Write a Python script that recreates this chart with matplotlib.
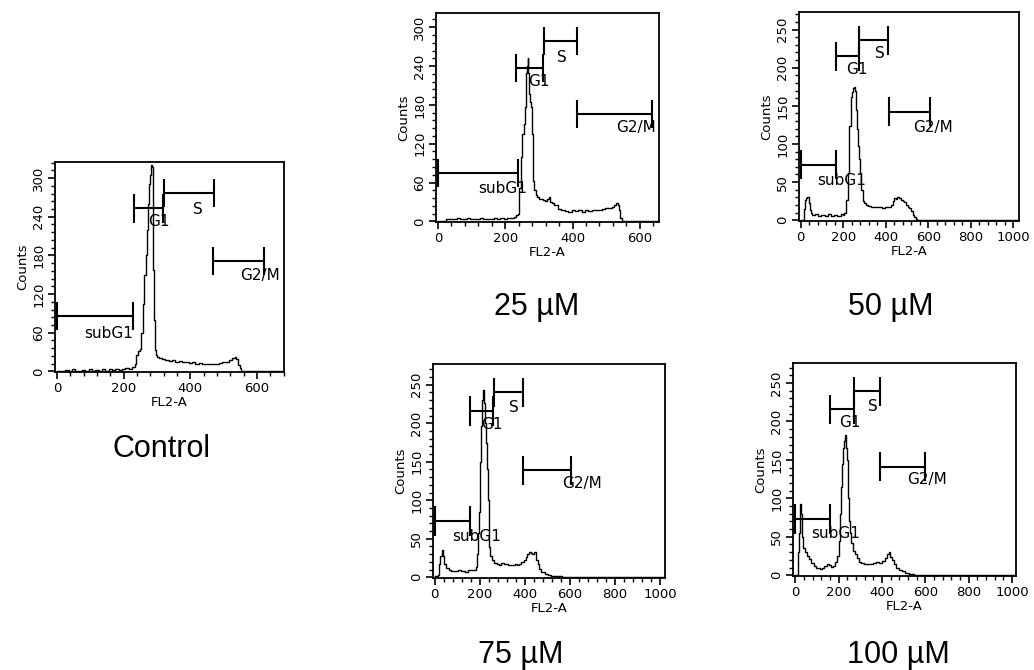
import matplotlib
matplotlib.use("Agg")
import matplotlib.pyplot as plt
from matplotlib.ticker import MultipleLocator, AutoMinorLocator

# ---------------- data ----------------
panel_names = ["Control", "25 \u00b5M", "50 \u00b5M", "75 \u00b5M", "100 \u00b5M"]

ctrl_x = [0, 10, 20, 30, 40, 50, 60, 70, 80, 90, 100, 110, 120, 130, 140, 150, 160, 170, 180, 190,
          200, 210, 220, 230, 236, 240, 245, 250, 255, 260, 264, 267, 270, 273, 277, 280, 283, 286,
          288, 290, 292, 295, 298, 302, 310, 320, 330, 340, 350, 360, 370, 380, 390, 400, 410, 420,
          430, 440, 450, 460, 470, 480, 490, 500, 510, 520, 530, 536, 540, 545, 550, 556, 570, 680]
ctrl_y = [0, 1, 0, 2, 0, 3, 1, 0, 2, 0, 3, 1, 2, 0, 3, 1, 4, 2, 3, 2,
          4, 5, 4, 6, 12, 25, 32, 35, 60, 105, 150, 180, 219, 260, 291, 305, 320, 318,
          290, 157, 80, 33, 25, 22, 20, 19, 18, 16, 17, 15, 16, 14, 15, 13, 14, 12,
          13, 12, 11, 12, 11, 12, 13, 14, 15, 17, 20, 22, 19, 10, 5, 0, 0, 0]

d25_x = [0, 20, 25, 30, 40, 50, 60, 70, 80, 90, 100, 110, 120, 130, 140, 150, 160, 170, 180, 190,
         200, 210, 220, 230, 235, 239, 244, 249, 253, 256, 259, 263, 266, 268, 270, 272, 275, 277,
         280, 284, 288, 292, 297, 302, 310, 315, 322, 327, 332, 335, 342, 350, 362, 372, 382, 392,
         402, 412, 422, 432, 442, 452, 462, 472, 482, 492, 502, 512, 520, 527, 532, 536, 540, 545,
         550, 660]
d25_y = [0, 0, 3, 3, 4, 3, 5, 4, 3, 5, 4, 4, 3, 5, 4, 3, 4, 5, 4, 5,
         4, 5, 5, 7, 10, 11, 52, 99, 135, 150, 176, 230, 240, 252, 230, 197, 185, 176,
         135, 63, 48, 40, 37, 35, 34, 33, 32, 35, 37, 30, 29, 25, 19, 17, 16, 15,
         17, 16, 17, 15, 17, 16, 18, 17, 18, 19, 20, 21, 22, 25, 28, 26, 17, 5,
         0, 0]

d50_x = [0, 15, 17, 22, 28, 32, 36, 40, 44, 50, 60, 75, 90, 105, 120, 135, 150, 165, 180, 195,
         200, 208, 216, 224, 232, 240, 244, 248, 252, 255, 259, 263, 267, 271, 275, 279, 287, 295,
         302, 310, 325, 340, 357, 372, 389, 405, 420, 428, 436, 443, 451, 458, 465, 474, 483, 490,
         498, 506, 514, 522, 530, 537, 545, 552, 1025]
d50_y = [0, 0, 15, 27, 29, 31, 30, 22, 14, 10, 7, 8, 6, 7, 5, 8, 6, 7, 6, 8,
         7, 10, 27, 62, 123, 162, 168, 173, 175, 172, 170, 145, 120, 97, 80, 62, 40, 25,
         22, 20, 19, 18, 18, 17, 16, 17, 17, 20, 25, 29, 28, 30, 29, 27, 25, 24,
         20, 18, 16, 12, 7, 4, 1, 0, 0]

d75_x = [0, 10, 15, 22, 28, 34, 38, 44, 55, 67, 80, 96, 110, 125, 140, 155, 170, 178, 185, 189,
         193, 197, 200, 204, 207, 211, 215, 218, 222, 226, 230, 234, 237, 241, 244, 250, 259, 270,
         280, 289, 300, 310, 319, 330, 340, 348, 360, 370, 378, 390, 400, 407, 415, 422, 430, 437,
         445, 452, 460, 467, 480, 496, 510, 526, 540, 556, 570, 1020]
d75_y = [2, 2, 3, 17, 28, 35, 28, 17, 12, 9, 8, 8, 9, 8, 7, 9, 9, 10, 13, 30,
         57, 85, 109, 150, 196, 230, 243, 235, 226, 200, 174, 140, 100, 65, 39, 28, 22, 18,
         17, 16, 19, 17, 17, 16, 16, 16, 17, 16, 17, 20, 22, 26, 30, 33, 32, 30,
         33, 22, 17, 11, 7, 4, 3, 2, 1, 1, 0, 0]

d100_x = [0, 14, 16, 18, 22, 26, 30, 34, 40, 50, 60, 70, 80, 90, 100, 110, 120, 130, 140, 150,
          160, 170, 180, 190, 200, 205, 210, 215, 220, 225, 228, 231, 234, 237, 240, 243, 246, 250,
          255, 260, 270, 280, 290, 300, 310, 320, 335, 350, 365, 380, 395, 410, 420, 428, 435, 442,
          450, 460, 470, 485, 500, 515, 530, 545, 555, 1020]
d100_y = [0, 0, 30, 55, 90, 92, 80, 50, 35, 30, 25, 21, 16, 12, 10, 9, 8, 9, 12, 14,
          13, 11, 12, 17, 25, 45, 80, 115, 145, 165, 175, 182, 178, 165, 150, 125, 100, 70,
          55, 42, 32, 27, 22, 17, 16, 15, 15, 14, 16, 17, 16, 18, 22, 27, 30, 24,
          20, 14, 10, 7, 5, 3, 2, 1, 0, 0]

gate_names = ["subG1", "G1", "S", "G2/M"]
# gate start, gate end, gate level (counts) for each panel
ctrl_gates = [(0, 228, 86), (230, 317, 253), (320, 470, 277), (467, 620, 171)]
d25_gates = [(0, 239, 75), (232, 313, 237), (315, 414, 279), (414, 637, 166)]
d50_gates = [(0, 166, 73), (166, 276, 215), (276, 408, 236), (417, 608, 142)]
d75_gates = [(0, 156, 73), (156, 259, 216), (262, 390, 240), (390, 604, 139)]
d100_gates = [(0, 162, 73), (162, 269, 216), (269, 392, 239), (392, 600, 141)]

# gate label anchor points (data coords)
ctrl_lab = [(155, 59), (307, 233), (422, 252), (610, 149)]
d25_lab = [(192, 51), (300, 216), (367, 253), (588, 145)]
d50_lab = [(193, 52), (266, 197), (373, 219), (620, 122)]
d75_lab = [(185, 53), (255, 198), (353, 220), (652, 122)]
d100_lab = [(185, 54), (254, 198), (358, 220), (608, 124)]

y_major = [60, 60, 50, 50, 50]
x_ticks_max = [600, 600, 1000, 1000, 1000]

# ---------------- layout ----------------
W, H = 1034, 670
fig = plt.figure(figsize=(W / 100, H / 100), dpi=100)

# pixel boxes: left, right, top, bottom ; limits
boxes = [(55, 284, 162, 372), (436, 659, 13, 222), (799, 1019, 12, 221),
         (433, 665, 364, 578), (793, 1016, 363, 576)]
xlims = [(-6, 681), (-6, 657), (-8, 1026), (-8, 1022), (-10, 1018)]
ylims = [(-1, 325), (-1, 322), (-1, 273), (-1, 277), (-1, 276)]
half_ticks = [22, 22, 19, 19, 19]
caption_pos = [(161, 449), (537, 307), (891, 307), (521, 655), (898, 655)]

series = [(ctrl_x, ctrl_y), (d25_x, d25_y), (d50_x, d50_y), (d75_x, d75_y), (d100_x, d100_y)]
gates = [ctrl_gates, d25_gates, d50_gates, d75_gates, d100_gates]
labs = [ctrl_lab, d25_lab, d50_lab, d75_lab, d100_lab]

for i in range(5):
    l, r, t, b = boxes[i]
    ax = fig.add_axes([l / W, 1 - b / H, (r - l) / W, (b - t) / H])
    xs, ys = series[i]
    ax.plot(xs, ys, color="black", lw=1.0, drawstyle="steps-mid")
    for (g0, g1, gy), name, (lx, ly) in zip(gates[i], gate_names, labs[i]):
        h = half_ticks[i]
        ax.plot([g0, g1], [gy, gy], color="black", lw=1.5, solid_capstyle="butt")
        ax.plot([g0, g0], [gy - h, gy + h], color="black", lw=1.5, solid_capstyle="butt")
        ax.plot([g1, g1], [gy - h, gy + h], color="black", lw=1.5, solid_capstyle="butt")
        ax.text(lx, ly, name, ha="center", va="center", fontsize=11, family="DejaVu Sans")
    ax.set_xlim(*xlims[i])
    ax.set_ylim(*ylims[i])
    ax.set_xticks(list(range(0, x_ticks_max[i] + 1, 200)))
    ax.xaxis.set_minor_locator(AutoMinorLocator(5))
    ax.yaxis.set_major_locator(MultipleLocator(y_major[i]))
    ax.yaxis.set_minor_locator(AutoMinorLocator(5))
    ax.tick_params(which="major", direction="out", length=5, width=1.2, labelsize=9.5, pad=2)
    ax.tick_params(which="minor", direction="out", length=3, width=1.0)
    for lab in ax.get_yticklabels():
        lab.set_rotation(90)
        lab.set_va("center")
    for sp in ax.spines.values():
        sp.set_linewidth(1.3)
    ax.set_ylabel("Counts", fontsize=9.5, labelpad=2)
    ax.set_xlabel("FL2-A", fontsize=9.5, labelpad=1)
    cx, cy = caption_pos[i]
    fig.text(cx / W, 1 - cy / H, panel_names[i], ha="center", va="center",
             fontsize=22, family="Liberation Sans")

fig.savefig("out.png", dpi=100)
